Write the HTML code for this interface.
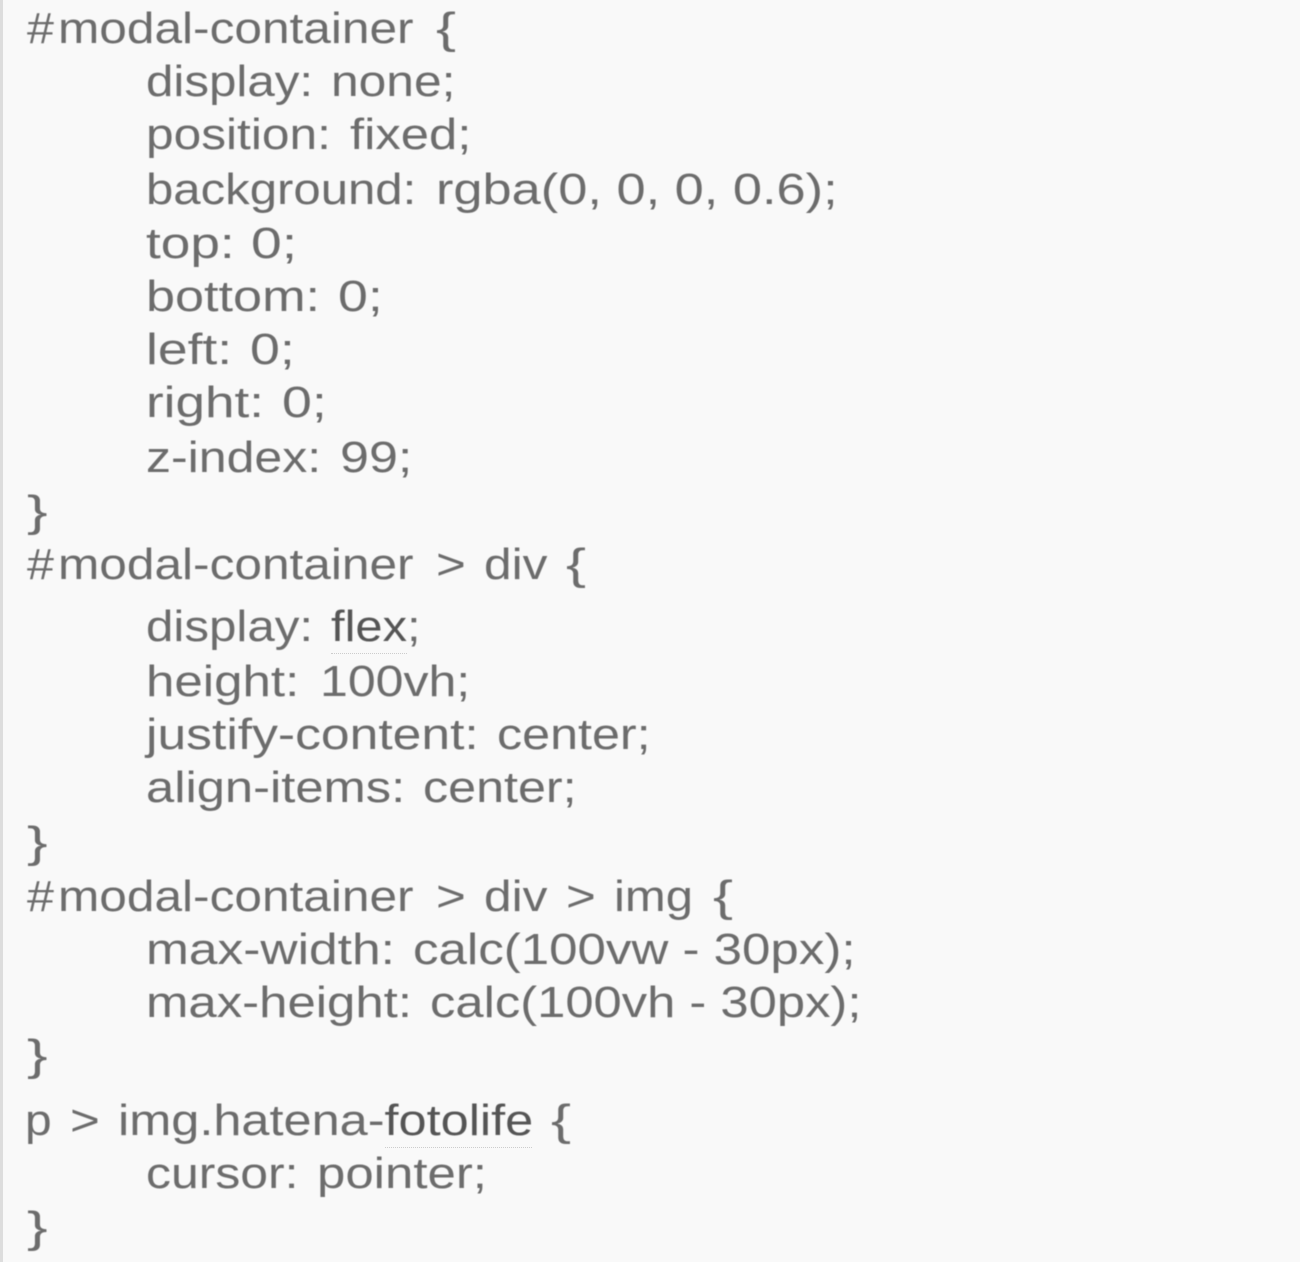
<!DOCTYPE html>
<html><head><meta charset="utf-8"><style>
html,body{margin:0;padding:0}
body{width:1300px;height:1262px;background:#f9f9f9;position:relative;overflow:hidden;font-family:"Liberation Sans",sans-serif;color:#6c6c6c;font-size:44px}
#bar{position:absolute;left:0;top:0;width:3px;height:1262px;background:#ddd}
div.l{position:absolute;left:0;width:1300px;white-space:pre;line-height:50px;height:50px;filter:blur(.6px)}
div.l span{position:absolute;top:0;transform-origin:0 50%;transform:scaleX(var(--s))}
.d{color:#555;font-weight:normal}
.u{position:absolute;height:0;border-bottom:1px dotted #ccc}
</style></head><body>
<div id="bar"></div>
<div class="l" style="top:4px"><span style="left:27px;--s:1.1">#</span><span style="left:58px;--s:1.127">modal-container</span><span style="left:436px;--s:1.36">{</span></div>
<div class="l" style="top:57px"><span style="left:146px;--s:1.12">display:</span><span style="left:331px;--s:1.13">none;</span></div>
<div class="l" style="top:110px"><span style="left:146px;--s:1.128">position:</span><span style="left:350px;--s:1.154">fixed;</span></div>
<div class="l" style="top:165px"><span style="left:146px;--s:1.116">background:</span><span style="left:436px;--s:1.19">rgba(0, 0, 0, 0.6);</span></div>
<div class="l" style="top:219px"><span style="left:146px;--s:1.208">top:</span><span style="left:251px;--s:1.257">0;</span></div>
<div class="l" style="top:272px"><span style="left:146px;--s:1.186">bottom:</span><span style="left:338px;--s:1.22">0;</span></div>
<div class="l" style="top:325px"><span style="left:146px;--s:1.214">left:</span><span style="left:250px;--s:1.22">0;</span></div>
<div class="l" style="top:378px"><span style="left:146px;--s:1.206">right:</span><span style="left:282px;--s:1.22">0;</span></div>
<div class="l" style="top:433px"><span style="left:146px;--s:1.137">z-index:</span><span style="left:340px;--s:1.183">99;</span></div>
<div class="l" style="top:487px"><span style="left:27px;--s:1.4">}</span></div>
<div class="l" style="top:540px"><span style="left:27px;--s:1.1">#</span><span style="left:58px;--s:1.127">modal-container</span><span style="left:436px;--s:1.16">&gt;</span><span style="left:484px;--s:1.127">div</span><span style="left:566px;--s:1.36">{</span></div>
<div class="l" style="top:602px"><span style="left:146px;--s:1.12">display:</span><span style="left:331px;--s:1.11"><b class="d">flex</b>;</span></div>
<div class="l" style="top:657px"><span style="left:146px;--s:1.16">height:</span><span style="left:320px;--s:1.137">100vh;</span></div>
<div class="l" style="top:710px"><span style="left:146px;--s:1.173">justify-content:</span><span style="left:497px;--s:1.142">center;</span></div>
<div class="l" style="top:763px"><span style="left:146px;--s:1.152">align-items:</span><span style="left:423px;--s:1.142">center;</span></div>
<div class="l" style="top:818px"><span style="left:27px;--s:1.4">}</span></div>
<div class="l" style="top:872px"><span style="left:27px;--s:1.1">#</span><span style="left:58px;--s:1.127">modal-container</span><span style="left:436px;--s:1.16">&gt;</span><span style="left:484px;--s:1.127">div</span><span style="left:566px;--s:1.16">&gt;</span><span style="left:614px;--s:1.114">img</span><span style="left:713px;--s:1.36">{</span></div>
<div class="l" style="top:925px"><span style="left:146px;--s:1.17">max-width:</span><span style="left:413px;--s:1.16">calc(100vw - 30px);</span></div>
<div class="l" style="top:978px"><span style="left:146px;--s:1.157">max-height:</span><span style="left:430px;--s:1.153">calc(100vh - 30px);</span></div>
<div class="l" style="top:1031px"><span style="left:27px;--s:1.4">}</span></div>
<div class="l" style="top:1096px"><span style="left:25px;--s:1.09">p</span><span style="left:70px;--s:1.16">&gt;</span><span style="left:118px;--s:1.147">img.hatena-<b class="d">fotolife</b></span><span style="left:551px;--s:1.36">{</span></div>
<div class="l" style="top:1149px"><span style="left:146px;--s:1.134">cursor:</span><span style="left:317px;--s:1.158">pointer;</span></div>
<div class="l" style="top:1203px"><span style="left:27px;--s:1.4">}</span></div>
<div class="u" style="left:331px;top:653px;width:76px"></div>
<div class="u" style="left:385px;top:1147px;width:147px"></div>
</body></html>
